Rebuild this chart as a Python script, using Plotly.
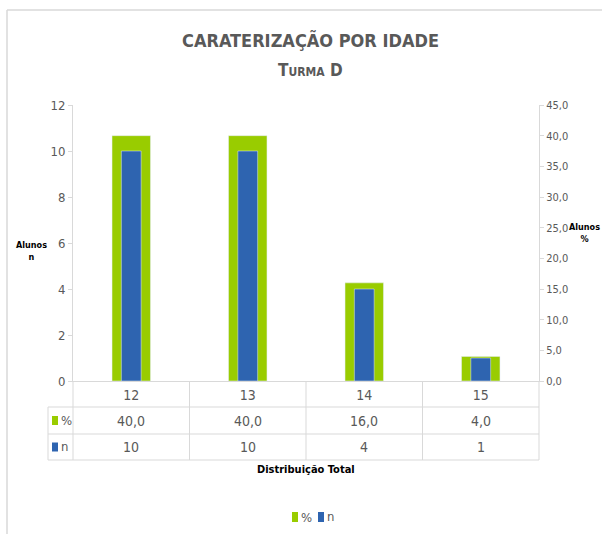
import plotly.graph_objects as go

categories = ["12", "13", "14", "15"]
pct_values = [40.0, 40.0, 16.0, 4.0]
n_values = [10, 10, 4, 1]
left_ticks = [0, 2, 4, 6, 8, 10, 12]
right_ticks = [0, 5, 10, 15, 20, 25, 30, 35, 40, 45]

GREEN = "#99CC00"
BLUE = "#2E64B0"
GRAY = "#595959"
LINE = "#D9D9D9"
FONT = "DejaVu Sans Condensed, DejaVu Sans, sans-serif"

W, H = 602, 534
L, R, T, B = 73, 63, 105, 153
pw = W - L - R
ph = H - T - B


def px_x(x):
    return (x - L) / pw


def px_y(y):
    return (H - B - y) / ph


fig = go.Figure()
fig.add_trace(go.Bar(x=categories, y=pct_values, name="%", marker_color=GREEN,
                     width=0.33, yaxis="y", showlegend=False))
fig.add_trace(go.Bar(x=categories, y=n_values, name="n", marker_color=BLUE,
                     width=0.17, yaxis="y2", showlegend=False))

shapes = []
# outer border (left & top)
shapes.append(dict(type="line", xref="paper", yref="paper", x0=px_x(7), x1=px_x(7),
                   y0=px_y(10), y1=px_y(540), line=dict(color=LINE, width=1.5)))
shapes.append(dict(type="line", xref="paper", yref="paper", x0=px_x(7), x1=px_x(605),
                   y0=px_y(10), y1=px_y(10), line=dict(color=LINE, width=1.5)))

# data table lines
row_lines = [407, 434, 460]
for yy in row_lines:
    shapes.append(dict(type="line", xref="paper", yref="paper", x0=px_x(48), x1=1,
                       y0=px_y(yy), y1=px_y(yy), line=dict(color=LINE, width=1)))
for i in range(len(categories) + 1):
    xp = i / len(categories)
    shapes.append(dict(type="line", xref="paper", yref="paper", x0=xp, x1=xp,
                       y0=0, y1=px_y(460), line=dict(color=LINE, width=1)))
shapes.append(dict(type="line", xref="paper", yref="paper", x0=px_x(48), x1=px_x(48),
                   y0=px_y(407), y1=px_y(460), line=dict(color=LINE, width=1)))
# legend keys in table
for yc, col in [(420.5, GREEN), (447, BLUE)]:
    shapes.append(dict(type="rect", xref="paper", yref="paper", x0=px_x(52), x1=px_x(58),
                       y0=px_y(yc + 4.5), y1=px_y(yc - 4.5), fillcolor=col,
                       line=dict(width=0)))
# bottom legend keys
for xc, col in [(295, GREEN), (321, BLUE)]:
    shapes.append(dict(type="rect", xref="paper", yref="paper", x0=px_x(xc - 3), x1=px_x(xc + 3),
                       y0=px_y(517 + 5), y1=px_y(517 - 5), fillcolor=col,
                       line=dict(width=0)))


def ann(text, x, y, size, color=GRAY, xanchor="center", xref="paper"):
    return dict(text=text, xref=xref, yref="paper", x=x, y=y, showarrow=False,
                xanchor=xanchor, yanchor="middle",
                font=dict(family=FONT, size=size, color=color))


annotations = [
    ann("<b>CARATERIZAÇÃO POR IDADE</b>", px_x(310), px_y(40), 18),
    ann("<b>T<span style='font-size:12px'>URMA</span> D</b>", px_x(310), px_y(70), 17),
    ann("<b>Alunos<br>n</b>", px_x(31), px_y(251), 9, "#000000"),
    ann("<b>Alunos<br>%</b>", px_x(584), px_y(233), 9, "#000000"),
    ann("<b>Distribuição Total</b>", px_x(306), px_y(470), 11, "#000000"),
    ann("%", px_x(59), px_y(420.5), 13, xanchor="left"),
    ann("n", px_x(59), px_y(446), 13, xanchor="left"),
    ann("%", px_x(299), px_y(517), 13, xanchor="left"),
    ann("n", px_x(325), px_y(516), 13, xanchor="left"),
]
for i, (p, n) in enumerate(zip(pct_values, n_values)):
    annotations.append(ann(f"{p:.1f}".replace(".", ","), i, px_y(420.5), 14, xref="x"))
    annotations.append(ann(str(n), i, px_y(447), 14, xref="x"))

fig.update_layout(
    width=W, height=H,
    margin=dict(l=L, r=R, t=T, b=B, pad=0, autoexpand=False),
    paper_bgcolor="white", plot_bgcolor="white",
    barmode="overlay",
    separators=",.",
    showlegend=False,
    font=dict(family=FONT, size=13, color=GRAY),
    xaxis=dict(type="category", categoryorder="array", categoryarray=categories,
               showline=True, linecolor=LINE, linewidth=1, showgrid=False,
               ticks="", tickfont=dict(family=FONT, size=14, color=GRAY),
               ticklabelstandoff=1, range=[-0.5, 3.5]),
    yaxis=dict(side="right", range=[0, 45], tickvals=right_ticks, tickformat=".1f",
               showline=True, linecolor=LINE, linewidth=1, showgrid=False, zeroline=False,
               ticks="outside", ticklen=4, tickcolor=LINE,
               tickfont=dict(family=FONT, size=11, color=GRAY)),
    yaxis2=dict(side="left", overlaying="y", range=[0, 12], tickvals=left_ticks,
                showline=True, linecolor=LINE, linewidth=1, showgrid=False, zeroline=False,
                ticks="outside", ticklen=4, tickcolor=LINE,
                tickfont=dict(family=FONT, size=13, color=GRAY)),
    shapes=shapes,
    annotations=annotations,
)

fig.write_html("out.html")
